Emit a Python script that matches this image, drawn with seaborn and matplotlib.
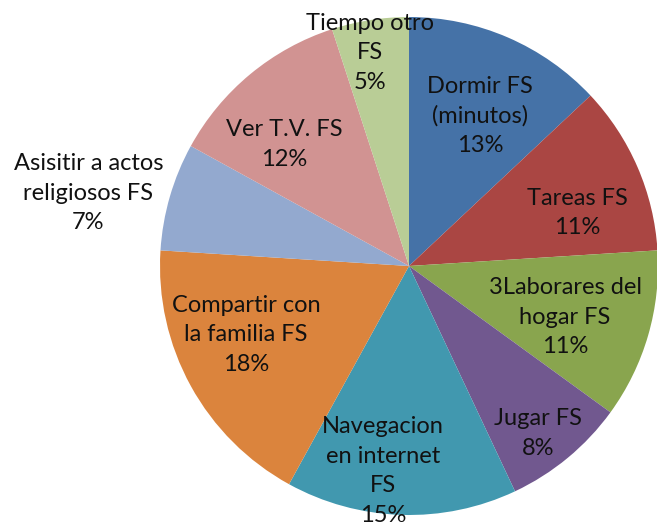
import numpy as np
import matplotlib
matplotlib.use("Agg")
import matplotlib.pyplot as plt
import seaborn as sns

# data
categories = ["Dormir FS\n(minutos)", "Tareas FS", "3Laborares del\nhogar FS", "Jugar FS",
              "Navegacion\nen internet\nFS", "Compartir con\nla familia FS",
              "Asisitir a actos\nreligiosos FS", "Ver T.V. FS", "Tiempo otro\nFS"]
values = [13, 11, 11, 8, 15, 18, 7, 12, 5]

# styling
colors = ["#4572A7", "#AA4643", "#89A54E", "#71588F", "#4198AF",
          "#DB843D", "#93A9CF", "#D19392", "#B9CD96"]
label_r = [0.667, 0.71, 0.66, 0.85, 0.83, 0.71, 1.32, 0.70, 0.87]
label_shift = [-2, -6, -2, -2, -5.4, -6, 3.4, 6.3, 1.4]  # degrees, best-fit nudges

sns.set_style("white")
plt.rcParams['font.family'] = ['Lato', 'DejaVu Sans']

W, H = 657, 532
fig = plt.figure(figsize=(W / 100, H / 100), dpi=100)
cx, cy, R = 409, 266, 249
ax = fig.add_axes([(cx - R) / W, (cy - R) / H, 2 * R / W, 2 * R / H])

wedges, _ = ax.pie(values, colors=colors, startangle=90, counterclock=False,
                   radius=1, wedgeprops=dict(linewidth=0))
ax.set_xlim(-1, 1)
ax.set_ylim(-1, 1)
ax.set_aspect("equal")
ax.axis("off")

total = sum(values)
for w, cat, v, r, s in zip(wedges, categories, values, label_r, label_shift):
    mid = np.deg2rad((w.theta1 + w.theta2) / 2 + s)
    ax.text(r * np.cos(mid), r * np.sin(mid), f"{cat}\n{round(100 * v / total)}%",
            ha="center", va="center", fontsize=17, color="#111111",
            linespacing=1.5, clip_on=False)

fig.savefig("out.png", dpi=100)
